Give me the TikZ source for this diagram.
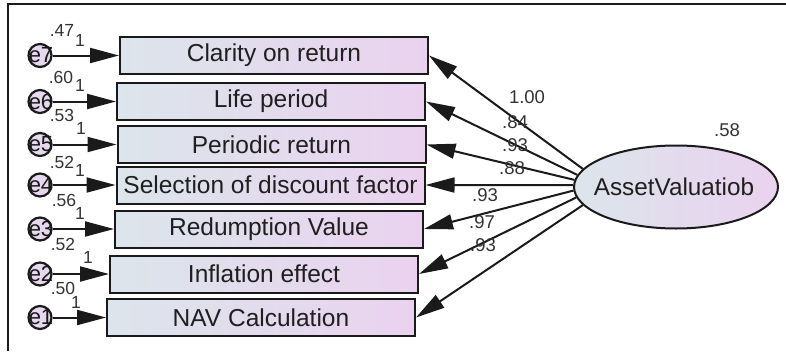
\documentclass[tikz,border=0pt]{standalone}
\usepackage{fontspec}
\setmainfont{Liberation Sans}
\usetikzlibrary{arrows.meta,shapes.geometric}
\definecolor{boxL}{HTML}{DCE5EB}
\definecolor{boxR}{HTML}{EAD2EF}
\definecolor{edgeC}{HTML}{1A1A1A}
\definecolor{numC}{HTML}{333333}
\definecolor{errC}{HTML}{E6D8EE}
\tikzset{
  obsbox/.style={draw=edgeC, line width=2pt, left color=boxL, right color=boxR,
    minimum width=308pt, minimum height=37pt, inner sep=0pt,
    font=\fontsize{24.5}{28}\selectfont, text=black!88},
  latent/.style={ellipse, draw=edgeC, line width=2pt, left color=boxL, right color=boxR,
    minimum width=204pt, minimum height=83pt, inner sep=0pt},
  latlab/.style={font=\fontsize{24.3}{28}\selectfont, text=black!88, inner sep=0pt},
  errc/.style={circle, draw=edgeC, line width=2.2pt, fill=errC, minimum size=23pt, inner sep=0pt},
  errlab/.style={font=\fontsize{22}{24}\selectfont, text=black!90, inner sep=0pt},
  numL/.style={font=\fontsize{17.5}{19}\selectfont, text=numC, inner sep=0pt},
  numR/.style={font=\fontsize{18.5}{20}\selectfont, text=numC, inner sep=0pt},
  arr/.style={draw=edgeC, line width=2pt, -{Triangle[length=29pt,width=15pt]}},
}
\begin{document}
\begin{tikzpicture}[x=1pt,y=-1pt]
\useasboundingbox (0,0) rectangle (786,351);
\fill[white] (0,0) rectangle (786,351);
% frame (top and left)
\draw[edgeC, line width=2.2pt] (8,351) -- (8,4) -- (786,4);

% observed boxes
\node[obsbox] (b1) at (274,55.5) {Clarity on return};
\node[obsbox] (b2) at (271,101.5) {Life period};
\node[obsbox] (b3) at (271.5,144.5) {Periodic return};
\node[obsbox] (b4) at (270.5,185) {Selection of discount factor};
\node[obsbox] (b5) at (269,229) {Redumption Value};
\node[obsbox] (b6) at (264,274) {Inflation effect};
\node[obsbox] (b7) at (261,317.5) {NAV Calculation};

% latent
\node[latent] (av) at (676,187) {};
\node[latlab] (avl) at (674,187) {AssetValuatiob};
\node[numR] (v58) at (727,130) {.58};

% error circles
\foreach \n/\y in {7/55.5,6/101.5,5/144.5,4/185,3/229,2/274,1/317.5}{
  \node[errc] (e\n) at (40,\y) {};
  \node[errlab] (le\n) at (41,\y) {e\n};
}

% error arrows
\draw[arr] (e7) -- (b1);
\draw[arr] (e6) -- (b2);
\draw[arr] (e5) -- (b3);
\draw[arr] (e4) -- (b4);
\draw[arr] (e3) -- (b5);
\draw[arr] (e2) -- (b6);
\draw[arr] (e1) -- (b7);

% variances and fixed weights
\node[numL] (v7) at (62,30) {.47};
\node[numL] (w7) at (80,40) {1};
\node[numL] (v6) at (61,77) {.60};
\node[numL] (w6) at (80,85) {1};
\node[numL] (v5) at (62,115) {.53};
\node[numL] (w5) at (81,128) {1};
\node[numL] (v4) at (62,162) {.52};
\node[numL] (w4) at (80,170) {1};
\node[numL] (v3) at (64,200) {.56};
\node[numL] (w3) at (80,213) {1};
\node[numL] (v2) at (63,244) {.52};
\node[numL] (w2) at (88,257) {1};
\node[numL] (v1) at (63,288) {.50};
\node[numL] (w1) at (76,302) {1};

% loadings
\draw[arr] (av.169.6) -- (b1.east);
\draw[arr] (av.173) -- (b2.east);
\draw[arr] (av.176.6) -- (b3.east);
\draw[arr] (av.179) -- (b4.east);
\draw[arr] (av.182.8) -- (b5.east);
\draw[arr] (av.186.7) -- (b6.east);
\draw[arr] (av.191.8) -- (b7.east);

\node[numR] (l1) at (527,97) {1.00};
\node[numR] (l2) at (515,122) {.84};
\node[numR] (l3) at (515,145) {.93};
\node[numR] (l4) at (512,168) {.88};
\node[numR] (l5) at (485,195) {.93};
\node[numR] (l6) at (482,222) {.97};
\node[numR] (l7) at (483,245) {.93};
\end{tikzpicture}
\end{document}
